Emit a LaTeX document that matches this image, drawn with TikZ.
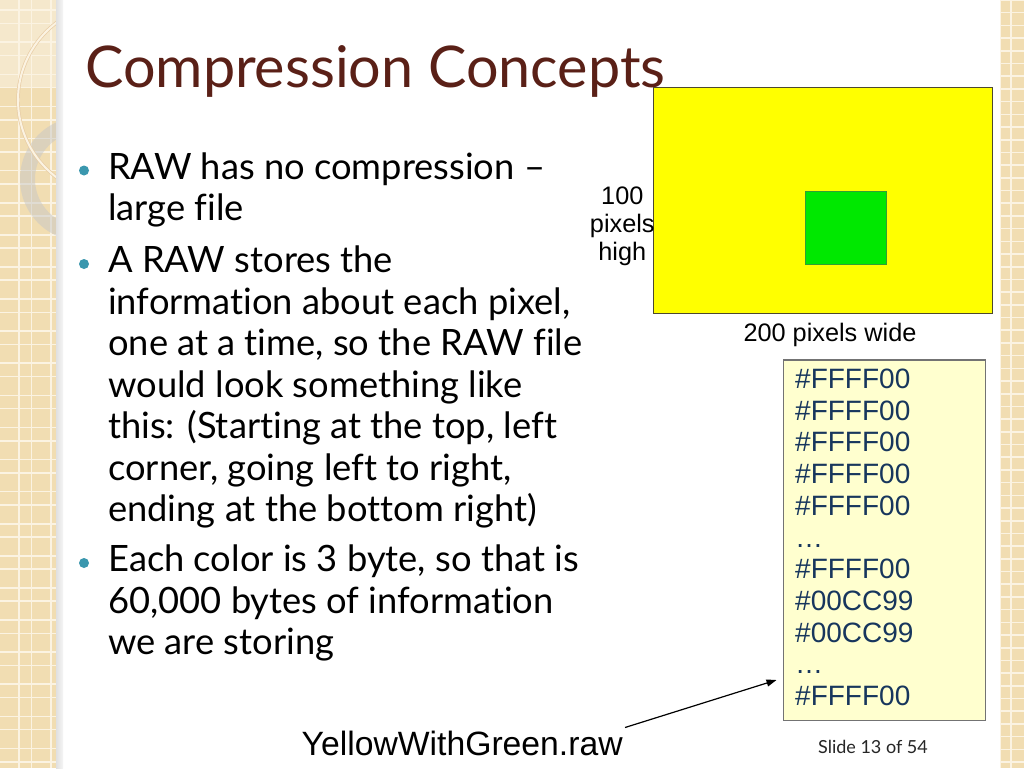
\documentclass[tikz,border=0pt]{standalone}
\usepackage{fontspec}
\setmainfont[Ligatures=NoCommon]{Lato}
\newfontfamily\arialf{Liberation Sans}
\usetikzlibrary{arrows.meta}
\definecolor{titlebrown}{HTML}{5A2017}
\definecolor{bulletteal}{HTML}{3A97AE}
\definecolor{stripbg}{HTML}{F1DDB2}
\definecolor{stripline}{HTML}{FBF3E2}
\definecolor{codeblue}{HTML}{17365D}
\definecolor{codebg}{HTML}{FFFFCF}
\definecolor{rawyellow}{HTML}{FFFF00}
\definecolor{rawgreen}{HTML}{00E800}
\tikzset{
  bodytext/.style={anchor=base west, inner sep=0pt, font=\fontsize{36.3}{41.5}\selectfont},
  bulletdot/.style={fill=bulletteal, draw=none},
  codeline/.style={anchor=base west, inner sep=0pt, text=codeblue, font=\arialf\fontsize{28}{32}\selectfont},
  labeltext/.style={inner sep=0pt, font=\arialf\fontsize{25.3}{28}\selectfont},
  gridline/.style={draw=stripline, line width=1.6pt}
}
\begin{document}
\begin{tikzpicture}[x=1pt,y=-1pt]
\useasboundingbox (0,0) rectangle (1024,768);
\fill[white] (0,0) rectangle (1024,768);
% left strip
\fill[stripbg] (0,0) rectangle (56,768);
\fill[white,opacity=0.35] (0,0) rectangle (56,88);
\foreach \x in {-0.5,19,31.6,51.1} {\draw[gridline] (\x,0) -- (\x,768);}
\foreach \k in {0,...,23} {
  \draw[gridline] (0,10.1+32.1*\k) -- (56,10.1+32.1*\k);
  \draw[gridline] (0,23.4+32.1*\k) -- (56,23.4+32.1*\k);
}
\begin{scope}
  \clip (0,0) rectangle (56,768);
  \fill[gray!45,opacity=0.5,even odd rule] (82.3,179) circle (62.3) (82.3,179) circle (47.3);
  \draw[color=stripbg!70!brown!80!white, line width=3.4pt] (115,100) circle (97);
  \draw[color=stripline, line width=2pt] (115,100) circle (97);
\end{scope}
% shadow bar
\fill[left color=black!12, right color=black!4] (56,0) rectangle (63,768);
% right strip
\fill[stripbg] (1000,0) rectangle (1024,768);
\draw[gridline] (1011,0) -- (1011,768);
\draw[gridline] (1000.5,0) -- (1000.5,768);
\foreach \k in {0,...,60} {\draw[gridline] (1000,12.7*\k) -- (1024,12.7*\k);}
% title
\node[anchor=base west, inner sep=0pt, text=titlebrown, font=\fontsize{57.5}{70}\selectfont] (title) at (85,87) {Compression Concepts};
% bullets
\fill[bulletdot] (84,170.5) circle (5);
\fill[bulletdot] (84,264) circle (5);
\fill[bulletdot] (84,563) circle (5);
\node[bodytext] (l1) at (108,179) {RAW has no compression –};
\node[bodytext] (l2) at (108,220.5) {large file};
\node[bodytext] (l3) at (108,272.5) {A RAW stores the};
\node[bodytext] (l4) at (108,314) {information about each pixel,};
\node[bodytext] (l5) at (108,355.5) {one at a time, so the RAW file};
\node[bodytext] (l6) at (108,397) {would look something like};
\node[bodytext] (l7) at (108,438.5) {this: (Starting at the top, left};
\node[bodytext] (l8) at (108,480) {corner, going left to right,};
\node[bodytext] (l9) at (108,521.5) {ending at the bottom right)};
\node[bodytext] (l10) at (108,571.5) {Each color is 3 byte, so that is};
\node[bodytext] (l11) at (108,613) {60,000 bytes of information};
\node[bodytext] (l12) at (108,654.5) {we are storing};
% image
\draw[fill=rawyellow, draw=black!60!olive, line width=1.2pt] (653.3,87.3) rectangle (992.3,313.3);
\draw[fill=rawgreen, draw=black!30!green!60!gray, line width=0.8pt] (805,191.7) rectangle (886,264.3);
\node[labeltext, anchor=base] (h1) at (622.3,204) {100};
\node[labeltext, anchor=base] (h2) at (622.3,232.5) {pixels};
\node[labeltext, anchor=base] (h3) at (622.3,260.5) {high};
\node[labeltext, anchor=base] (wide) at (830,341.5) {200 pixels wide};
% code box
\draw[fill=codebg, draw=black!55, line width=1.2pt] (783.5,360) rectangle (985.5,720.5);
\node[codeline] (c1) at (795,388.5) {\#FFFF00};
\node[codeline] (c2) at (795,420.2) {\#FFFF00};
\node[codeline] (c3) at (795,451.9) {\#FFFF00};
\node[codeline] (c4) at (795,483.6) {\#FFFF00};
\node[codeline] (c5) at (795,515.3) {\#FFFF00};
\node[codeline] (c6) at (795,547) {…};
\node[codeline] (c7) at (795,578.7) {\#FFFF00};
\node[codeline] (c8) at (795,610.4) {\#00CC99};
\node[codeline] (c9) at (795,642.1) {\#00CC99};
\node[codeline] (c10) at (795,673.8) {…};
\node[codeline] (c11) at (795,705.5) {\#FFFF00};
% filename and arrow
\node[anchor=base west, inner sep=0pt, font=\arialf\fontsize{33.7}{36}\selectfont] (fname) at (301.5,755) {YellowWithGreen.raw};
\coordinate (arrS) at (625,727.5);
\coordinate (arrE) at (776.5,680);
\draw[line width=1.2pt, -{Triangle[length=10pt,width=7pt]}] (arrS) -- (arrE);
% slide number
\node[anchor=base, inner sep=0pt, text=black!85, font=\fontsize{18}{20}\selectfont] (slnum) at (873,753) {Slide 13 of 54};
\end{tikzpicture}
\end{document}
